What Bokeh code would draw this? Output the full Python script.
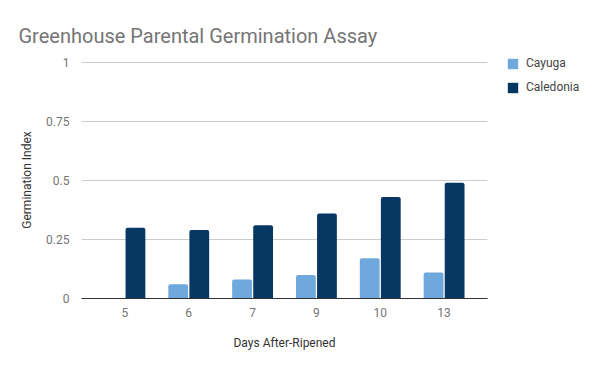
from bokeh.plotting import figure
from bokeh.models import ColumnDataSource, FactorRange, Range1d, FixedTicker, Legend, LegendItem
from bokeh.transform import dodge
from bokeh.embed import file_html
from bokeh.resources import INLINE

days = ["5", "6", "7", "9", "10", "13"]
cayuga = [0.0, 0.06, 0.08, 0.10, 0.17, 0.11]
caledonia = [0.30, 0.29, 0.31, 0.36, 0.43, 0.49]
y_ticks = [0, 0.25, 0.5, 0.75, 1]
y_tick_labels = ["0", "0.25", "0.5", "0.75", "1"]

src = ColumnDataSource(dict(days=days, cayuga=cayuga, caledonia=caledonia))

p = figure(frame_width=406, frame_height=237, output_backend="svg", toolbar_location=None,
           x_range=FactorRange(factors=days, range_padding=0.18, range_padding_units="absolute"),
           y_range=Range1d(0, 1.004),
           min_border_left=81, min_border_right=113, min_border_top=61, min_border_bottom=73)

FONT = "Roboto"
p.title.text = "Greenhouse Parental Germination Assay"
p.title.text_font = FONT
p.title.text_font_size = "20px"
p.title.text_font_style = "normal"
p.title.text_color = "#757575"
p.title.align = "left"
p.title.offset = -63
p.title.vertical_align = "top"
p.title.standoff = 23

p.outline_line_color = None
p.xgrid.grid_line_color = None
p.ygrid.grid_line_color = "#cccccc"
p.ygrid.ticker = FixedTicker(ticks=y_ticks)

r1 = p.vbar(x=dodge("days", -0.165, range=p.x_range), top="cayuga", width=0.31, source=src,
            fill_color="#6fa8dc", line_color=None, border_radius=(2, 2, 0, 0))
r2 = p.vbar(x=dodge("days", 0.165, range=p.x_range), top="caledonia", width=0.31, source=src,
            fill_color="#073763", line_color=None, border_radius=(2, 2, 0, 0))

ya = p.yaxis[0]
ya.ticker = FixedTicker(ticks=y_ticks)
ya.major_label_overrides = {t: l for t, l in zip(y_ticks, y_tick_labels)}
ya.axis_line_color = None
ya.major_tick_line_color = None
ya.minor_tick_line_color = None
ya.major_label_standoff = 6
ya.major_label_text_font = FONT
ya.major_label_text_font_size = "12px"
ya.major_label_text_color = "#757575"
ya.axis_label = "Germination Index"
ya.axis_label_text_font = FONT
ya.axis_label_text_font_size = "12px"
ya.axis_label_text_font_style = "normal"
ya.axis_label_text_color = "#333333"
ya.axis_label_standoff = 9

xa = p.xaxis[0]
xa.axis_line_color = "#333333"
xa.axis_line_width = 1
xa.major_tick_line_color = None
xa.minor_tick_line_color = None
xa.major_label_standoff = 3
xa.major_label_text_font = FONT
xa.major_label_text_font_size = "12px"
xa.major_label_text_color = "#757575"
xa.axis_label = "Days After-Ripened"
xa.axis_label_text_font = FONT
xa.axis_label_text_font_size = "12px"
xa.axis_label_text_font_style = "normal"
xa.axis_label_text_color = "#333333"
xa.axis_label_standoff = 16

legend = Legend(items=[LegendItem(label="Cayuga", renderers=[r1]),
                       LegendItem(label="Caledonia", renderers=[r2])],
                location=(19, 199), padding=0, margin=0, spacing=0,
                glyph_width=13, glyph_height=13, label_height=24, label_standoff=7,
                label_text_font=FONT, label_text_font_size="12px", label_text_color="#444444",
                border_line_color=None, background_fill_alpha=0)
p.add_layout(legend, "right")

open("out.html", "w").write(file_html(p, INLINE))
